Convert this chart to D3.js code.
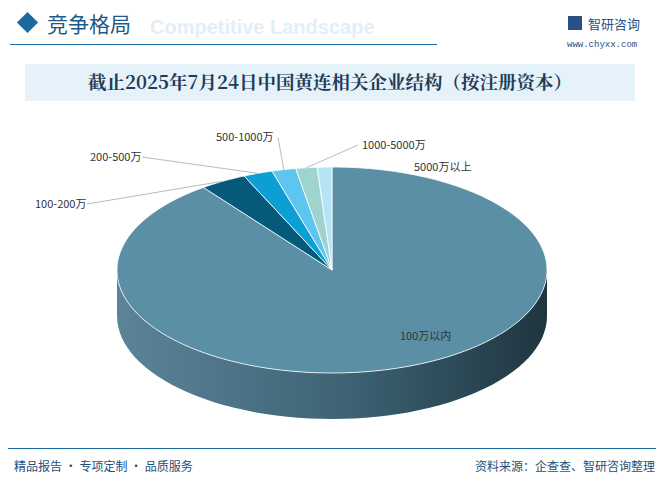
<!DOCTYPE html>
<html><head><meta charset="utf-8">
<script src="https://cdn.jsdelivr.net/npm/d3@7"></script>
<style>body{margin:0;background:#fff}svg{display:block;font-family:"Noto Sans CJK SC","Noto Sans",sans-serif}</style>
</head><body>
<script>
var categories = ['100万以内', '100-200万', '200-500万', '500-1000万', '1000-5000万', '5000万以上'];
var shares = [89.8, 3.5, 2.2, 1.8, 1.6, 1.1];
var colors = ['#5b8fa6', '#045a78', '#0b9fd6', '#5ec6ee', '#9ed3cf', '#b5e4f6'];
// label text spots and leader lines (null = no line)
var labelPos = [[400, 340], [35, 208], [90, 161], [216, 141], [362, 149], [414, 171]];

var W = 664, H = 482;
var svg = d3.select('body').append('svg').attr('width', W).attr('height', H);
var defs = svg.append('defs');

// header
svg.append('text').attr('x', 150).attr('y', 34).attr('font-size', 20).attr('font-weight', 'bold')
  .attr('fill', '#e3eef6').attr('font-family', 'Arial').text('Competitive Landscape');
svg.append('rect').attr('x', 20).attr('y', 15).attr('width', 15).attr('height', 15)
  .attr('transform', 'rotate(45,27.5,22.5)').attr('fill', '#1a6aa0');
svg.append('text').attr('x', 47).attr('y', 32).attr('font-size', 21).attr('fill', '#1d5a87').text('竞争格局');
svg.append('line').attr('x1', 10).attr('x2', 437).attr('y1', 44.5).attr('y2', 44.5).attr('stroke', '#1a6aa0').attr('stroke-width', 1.2);
svg.append('rect').attr('x', 568).attr('y', 16).attr('width', 14).attr('height', 14).attr('fill', '#2a4f86');
svg.append('text').attr('x', 588).attr('y', 29).attr('font-size', 13).attr('fill', '#2a4f86').text('智研咨询');
svg.append('text').attr('x', 567).attr('y', 47).attr('font-size', 9).attr('fill', '#2a4f86').attr('font-family', 'Liberation Mono').text('www.chyxx.com');

svg.append('rect').attr('x', 25).attr('y', 64).attr('width', 610).attr('height', 37).attr('fill', '#e6f2fa');
svg.append('text').attr('x', 330).attr('y', 89).attr('text-anchor', 'middle').attr('font-size', 18.5)
  .attr('font-weight', 'bold').attr('fill', '#1e3c58').attr('font-family', '"Noto Serif CJK SC","Noto Sans CJK SC",serif')
  .text('截止2025年7月24日中国黄连相关企业结构（按注册资本）');

// 3D pie
var cx = 332, cy = 270, rx = 215, ry = 103, depth = 46;
var pie = d3.pie().sort(null).value(function (d) { return d; });
var arcs = pie(shares);
function pt(a, dy) { return [cx + rx * Math.sin(a), cy - ry * Math.cos(a) + (dy || 0)]; }

var grad = defs.append('linearGradient').attr('id', 'side').attr('x1', 0).attr('x2', 1);
grad.append('stop').attr('offset', 0).attr('stop-color', '#5c8499');
grad.append('stop').attr('offset', 0.55).attr('stop-color', '#3c6273');
grad.append('stop').attr('offset', 1).attr('stop-color', '#1f3540');

// walls (front half: a in [PI/2, 3PI/2])
arcs.forEach(function (d, i) {
  var a0 = Math.max(d.startAngle, Math.PI / 2), a1 = Math.min(d.endAngle, 3 * Math.PI / 2);
  if (a1 <= a0) return;
  var n = 60, top = [], bot = [];
  for (var k = 0; k <= n; k++) {
    var a = a0 + (a1 - a0) * k / n;
    top.push(pt(a)); bot.push(pt(a, depth));
  }
  svg.append('path').attr('d', d3.line()(top.concat(bot.reverse())) + 'Z')
    .attr('fill', i === 0 ? 'url(#side)' : d3.color(colors[i]).darker(1));
});

// tops
arcs.forEach(function (d, i) {
  var n = Math.max(4, Math.ceil((d.endAngle - d.startAngle) * 40)), p = [[cx, cy]];
  for (var k = 0; k <= n; k++) p.push(pt(d.startAngle + (d.endAngle - d.startAngle) * k / n));
  svg.append('path').attr('d', d3.line()(p) + 'Z').attr('fill', colors[i])
    .attr('stroke', '#fff').attr('stroke-width', 0.8);
});

// labels with leader lines
arcs.forEach(function (d, i) {
  var lp = labelPos[i];
  if (i > 0 && i < 5) {
    var e = pt((d.startAngle + d.endAngle) / 2);
    var tx = i === 3 ? lp[0] + 62 : (i === 4 ? lp[0] - 4 : lp[0] + (i === 1 ? 52 : 52));
    var ty = lp[1] - 4;
    svg.append('polyline').attr('points', [e, [tx, ty]].map(String).join(' '))
      .attr('fill', 'none').attr('stroke', '#aaa').attr('stroke-width', 0.8);
  }
  svg.append('text').attr('x', lp[0]).attr('y', lp[1]).attr('font-size', 11).attr('fill', '#333').text(categories[i]);
});

// footer
svg.append('line').attr('x1', 8).attr('x2', 656).attr('y1', 448.5).attr('y2', 448.5).attr('stroke', '#1a6aa0').attr('stroke-width', 1);
svg.append('text').attr('x', 14).attr('y', 471).attr('font-size', 12).attr('fill', '#1d4f7c').text('精品报告 · 专项定制 · 品质服务');
svg.append('text').attr('x', 655).attr('y', 471).attr('text-anchor', 'end').attr('font-size', 12).attr('fill', '#1d4f7c').text('资料来源：企查查、智研咨询整理');
</script>
</body></html>
